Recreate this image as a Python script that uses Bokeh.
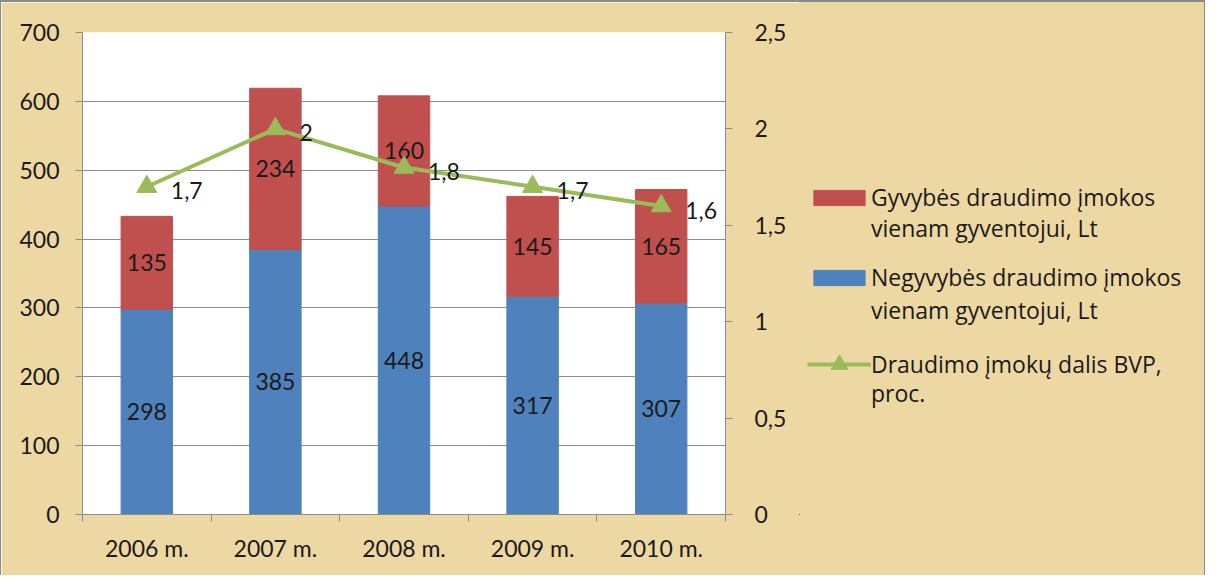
from bokeh.plotting import figure
from bokeh.layouts import row
from bokeh.models import (Range1d, LinearAxis, FixedTicker, Legend, LegendItem,
                          ColumnDataSource, CustomJSTickFormatter)
from bokeh.core.properties import value
from bokeh.embed import file_html
from bokeh.resources import INLINE

# ---- data ----
categories = ["2006 m.", "2007 m.", "2008 m.", "2009 m.", "2010 m."]
non_life = [298, 385, 448, 317, 307]   # Negyvybės draudimo įmokos vienam gyventojui, Lt
life = [135, 234, 160, 145, 165]       # Gyvybės draudimo įmokos vienam gyventojui, Lt
gdp_share = [1.7, 2.0, 1.8, 1.7, 1.6]  # Draudimo įmokų dalis BVP, proc.
left_ticks = [0, 100, 200, 300, 400, 500, 600, 700]
right_ticks = [0, 0.5, 1, 1.5, 2, 2.5]
labels_life = ["Gyvybės draudimo įmokos", "vienam gyventojui, Lt"]
labels_nonlife = ["Negyvybės draudimo įmokos", "vienam gyventojui, Lt"]
labels_gdp = ["Draudimo įmokų dalis BVP,", "proc."]

FONT = "Lato"
FS = "23px"
LFONT = "Open Sans"
LFS = "23px"
TXT = "#1a1a1a"
BG = "#EDD8A3"
GRID = "#8C8C8C"
RED = "#C0504D"
BLUE = "#4F81BD"
GREEN = "#9BBB59"

xs = [i + 0.5 for i in range(len(categories))]
src = ColumnDataSource(dict(
    x=xs,
    non_life=non_life,
    life=life,
    total=[a + b for a, b in zip(non_life, life)],
    nl_mid=[a / 2 for a in non_life],
    l_mid=[a + b / 2 for a, b in zip(non_life, life)],
    nl_txt=[str(v) for v in non_life],
    l_txt=[str(v) for v in life],
    gdp=gdp_share,
    gdp_txt=[("%g" % v).replace(".", ",") for v in gdp_share],
))

p = figure(width=799, height=575, output_backend="svg", toolbar_location=None,
           x_range=Range1d(0, len(categories)), y_range=Range1d(0, 700))
p.min_border_left = 81
p.min_border_right = 75
p.min_border_top = 30
p.min_border_bottom = 63
p.background_fill_color = "white"
p.border_fill_color = BG
p.outline_line_color = None
p.styles = {"border-top": "2px solid #8a8a8a", "border-left": "1px solid #8a8a8a"}

p.extra_y_ranges = {"pct": Range1d(0, 2.5)}

# bars
p.vbar(x="x", bottom=0, top="non_life", width=0.4, color=BLUE, source=src)
p.vbar(x="x", bottom="non_life", top="total", width=0.4, color=RED, source=src)

# bar labels
for col_y, col_t in (("nl_mid", "nl_txt"), ("l_mid", "l_txt")):
    p.text(x="x", y=col_y, text=col_t, source=src, text_align="center",
           text_baseline="middle", text_font=value(FONT), text_font_size=FS,
           text_color=TXT)

# line
p.line(x="x", y="gdp", y_range_name="pct", line_color=GREEN, line_width=4, source=src)
p.scatter(x="x", y="gdp", y_range_name="pct", marker="triangle", size=20,
          fill_color=GREEN, line_color=GREEN, source=src)
p.text(x="x", y="gdp", text="gdp_txt", y_range_name="pct", source=src,
       x_offset=24, y_offset=4, text_align="left", text_baseline="middle",
       text_font=value(FONT), text_font_size=FS, text_color=TXT)

# axes
p.xgrid.visible = False
p.ygrid.grid_line_color = GRID
p.ygrid.ticker = FixedTicker(ticks=left_ticks)

ax = p.xaxis[0]
ax.ticker = FixedTicker(ticks=xs, minor_ticks=list(range(len(categories) + 1)))
ax.major_label_overrides = {x: c for x, c in zip(xs, categories)}
ax.major_tick_line_color = None
ax.minor_tick_line_color = GRID
ax.minor_tick_in = 0
ax.minor_tick_out = 7
ax.axis_line_color = GRID
ax.major_label_standoff = 12

ay = p.yaxis[0]
ay.ticker = FixedTicker(ticks=left_ticks)
ay.minor_tick_line_color = None
ay.major_tick_in = 0
ay.major_tick_out = 7
ay.major_tick_line_color = GRID
ay.axis_line_color = GRID
ay.major_label_standoff = 16

ar = LinearAxis(y_range_name="pct", ticker=FixedTicker(ticks=right_ticks),
                formatter=CustomJSTickFormatter(code="return String(tick).replace('.', ',')"))
ar.minor_tick_line_color = None
ar.major_tick_in = 0
ar.major_tick_out = 7
ar.major_tick_line_color = GRID
ar.axis_line_color = GRID
ar.major_label_standoff = 22
p.add_layout(ar, "right")

for a in (ax, ay, ar):
    a.major_label_text_font = FONT
    a.major_label_text_font_size = FS
    a.major_label_text_color = TXT

# ---- legend panel (separate figure sharing the background) ----
# its ranges keep the proxy glyphs out of view; only the legends show
q = figure(width=406, height=575, output_backend="svg", toolbar_location=None,
           x_range=Range1d(100, 101), y_range=Range1d(10000, 10001),
           x_axis_type=None, y_axis_type=None)
q.min_border = 0
q.grid.visible = False
q.outline_line_color = None
q.background_fill_color = None
q.border_fill_color = None
q.styles = {"border-top": "2px solid #8a8a8a", "border-right": "1px solid #8a8a8a",
            "background-color": BG}

d_red = q.vbar(x="x", bottom="non_life", top="total", width=0.4, color=RED, source=src)
d_blue = q.vbar(x="x", bottom=0, top="non_life", width=0.4, color=BLUE, source=src)
d_line = q.line(x="x", y="gdp", line_color=GREEN, line_width=4, source=src)
d_mk = q.scatter(x="x", y="gdp", marker="triangle", fill_color=GREEN,
                 line_color=GREEN, source=src)
d_blank = q.line(x="x", y="gdp", line_alpha=0, source=src)


def add_legend(text, rends, loc, gh, lh):
    lg = Legend(items=[LegendItem(label=text, renderers=rends)], location=loc)
    lg.background_fill_alpha = 0
    lg.border_line_color = None
    lg.padding = 0
    lg.margin = 0
    lg.glyph_width = 64
    lg.glyph_height = gh
    lg.label_height = lh
    lg.label_standoff = 0
    lg.label_text_font = LFONT
    lg.label_text_font_size = LFS
    lg.label_text_color = TXT
    q.add_layout(lg, "center")


add_legend(labels_life[0], [d_red], (8, 300), 19, 34)
add_legend(labels_life[1], [d_blank], (8, 269), 19, 34)
add_legend(labels_nonlife[0], [d_blue], (8, 220), 19, 34)
add_legend(labels_nonlife[1], [d_blank], (8, 187), 19, 34)
add_legend(labels_gdp[0], [d_line, d_mk], (8, 129), 42, 30)
add_legend(labels_gdp[1], [d_blank], (8, 105), 19, 30)

layout = row(p, q)
open("out.html", "w").write(file_html(layout, INLINE))
